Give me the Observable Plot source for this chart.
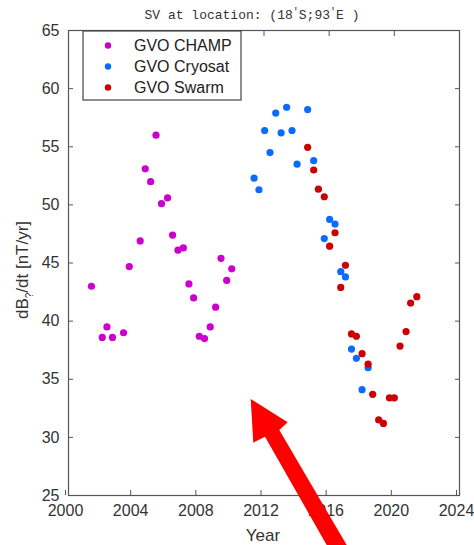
<!DOCTYPE html>
<html>
<head>
<meta charset="utf-8">
<script src="https://cdn.jsdelivr.net/npm/d3@7"></script>
<script src="https://cdn.jsdelivr.net/npm/@observablehq/plot@0.6"></script>
<style>
  html, body { margin: 0; padding: 0; background: #fff; }
  #chart { width: 474px; height: 545px; position: relative; }
</style>
</head>
<body>
<div id="chart"></div>
<script>
const champYears = [2001.41, 2002.07, 2002.36, 2002.70, 2003.38, 2003.73, 2004.40, 2004.71, 2005.04, 2005.37, 2005.71, 2006.08, 2006.39, 2006.72, 2007.05, 2007.39, 2007.68, 2008.03, 2008.35, 2008.70, 2009.03, 2009.36, 2009.71, 2010.02];
const champValues = [43.0, 38.6, 39.5, 38.6, 39.0, 44.7, 46.9, 53.1, 52.0, 56.0, 50.1, 50.6, 47.4, 46.1, 46.3, 43.2, 42.0, 38.7, 38.5, 39.5, 41.2, 45.4, 43.5, 44.5];

const cryoYears = [2011.39, 2011.69, 2012.04, 2012.37, 2012.72, 2013.05, 2013.39, 2013.72, 2014.03, 2014.68, 2015.05, 2015.70, 2016.03, 2016.36, 2016.71, 2017.00, 2017.37, 2017.67, 2018.02, 2018.39];
const cryoValues = [52.3, 51.3, 56.4, 54.5, 57.9, 56.2, 58.4, 56.4, 53.5, 58.2, 53.8, 47.1, 48.75, 48.35, 44.25, 43.8, 37.6, 36.8, 34.1, 36.0];

const swarmYears = [2014.68, 2015.05, 2015.34, 2015.70, 2016.03, 2016.36, 2016.71, 2017.00, 2017.37, 2017.67, 2018.02, 2018.39, 2018.67, 2019.04, 2019.33, 2019.70, 2020.00, 2020.35, 2020.72, 2021.00, 2021.38];
const swarmValues = [54.95, 53.0, 51.35, 50.7, 46.45, 47.6, 42.9, 44.8, 38.9, 38.7, 37.2, 36.3, 33.7, 31.5, 31.2, 33.4, 33.4, 37.85, 39.1, 41.55, 42.1];

const seriesNames = ["GVO CHAMP", "GVO Cryosat", "GVO Swarm"];
const seriesColors = ["#cc00cc", "#0a6cff", "#cc0000"];

const xTicks = [2000, 2004, 2008, 2012, 2016, 2020, 2024];
const yTicks = [25, 30, 35, 40, 45, 50, 55, 60, 65];

const data = [
  ...champYears.map((y, i) => ({year: y, value: champValues[i], series: seriesNames[0]})),
  ...cryoYears.map((y, i) => ({year: y, value: cryoValues[i], series: seriesNames[1]})),
  ...swarmYears.map((y, i) => ({year: y, value: swarmValues[i], series: seriesNames[2]}))
];

const axisColor = "#555";
const font = "Liberation Sans, Arial, sans-serif";

const plot = Plot.plot({
  width: 474,
  height: 545,
  marginTop: 30,
  marginRight: 15,
  marginBottom: 50,
  marginLeft: 68,
  style: {fontFamily: font, fontSize: "16px", color: "#333", background: "#fff"},
  x: {domain: [2000, 2024], label: null},
  y: {domain: [25, 65], label: null},
  color: {domain: seriesNames, range: seriesColors},
  marks: [
    Plot.frame({stroke: axisColor, strokeWidth: 1.2}),
    Plot.axisX(xTicks, {anchor: "bottom", tickSize: -5, tickPadding: 14, dx: -3, stroke: axisColor, fill: "#333", tickFormat: d => String(d)}),
    Plot.axisX(xTicks, {anchor: "top", tickSize: -5, stroke: axisColor, tickFormat: () => ""}),
    Plot.axisY(yTicks, {anchor: "left", tickSize: -5, tickPadding: 14, stroke: axisColor, fill: "#333", tickFormat: d => String(d)}),
    Plot.axisY(yTicks, {anchor: "right", tickSize: -5, stroke: axisColor, tickFormat: () => ""}),
    Plot.dot(data, {x: "year", y: "value", fill: "series", r: 3.6, stroke: "none"})
  ]
});

document.getElementById("chart").appendChild(plot);

const svg = d3.select(plot);

// Title
const title = svg.append("text")
  .attr("x", 252).attr("y", 19)
  .attr("text-anchor", "middle")
  .attr("font-family", "Liberation Mono, DejaVu Sans Mono, monospace")
  .attr("font-size", 13)
  .attr("fill", "#333");
title.append("tspan").text("SV at location: (18");
title.append("tspan").attr("dy", -4).attr("font-size", 10).text("′");
title.append("tspan").attr("dy", 4).text("S;93");
title.append("tspan").attr("dy", -4).attr("font-size", 10).text("′");
title.append("tspan").attr("dy", 4).text("E )");

// X label
svg.append("text")
  .attr("x", 263).attr("y", 541)
  .attr("text-anchor", "middle")
  .attr("font-family", font).attr("font-size", 17)
  .attr("fill", "#333")
  .text("Year");

// Y label
const yl = svg.append("text")
  .attr("transform", "translate(28,270) rotate(-90)")
  .attr("text-anchor", "middle")
  .attr("font-family", font).attr("font-size", 17)
  .attr("fill", "#333");
yl.append("tspan").text("dB");
yl.append("tspan").attr("dy", 5).attr("font-size", 10).text("?");
yl.append("tspan").attr("dy", -5).text("/dt [nT/yr]");

// Legend
const lg = svg.append("g");
lg.append("rect")
  .attr("x", 83).attr("y", 31).attr("width", 158).attr("height", 69)
  .attr("fill", "#fff").attr("stroke", "#444").attr("stroke-width", 1.2);
seriesNames.forEach((name, i) => {
  const cy = 45.5 + i * 21;
  lg.append("circle").attr("cx", 108).attr("cy", cy).attr("r", 3.2).attr("fill", seriesColors[i]);
  lg.append("text").attr("x", 134).attr("y", cy + 5.5)
    .attr("text-anchor", "start")
    .attr("font-family", font).attr("font-size", 16).attr("fill", "#222")
    .text(name);
});

// Red arrow annotation
svg.append("polygon")
  .attr("points", "250.7,399 287.7,422.3 279.3,430 346.7,545 326.7,545 265,436.7 253.3,442.7")
  .attr("fill", "#ff0000");
</script>
</body>
</html>
